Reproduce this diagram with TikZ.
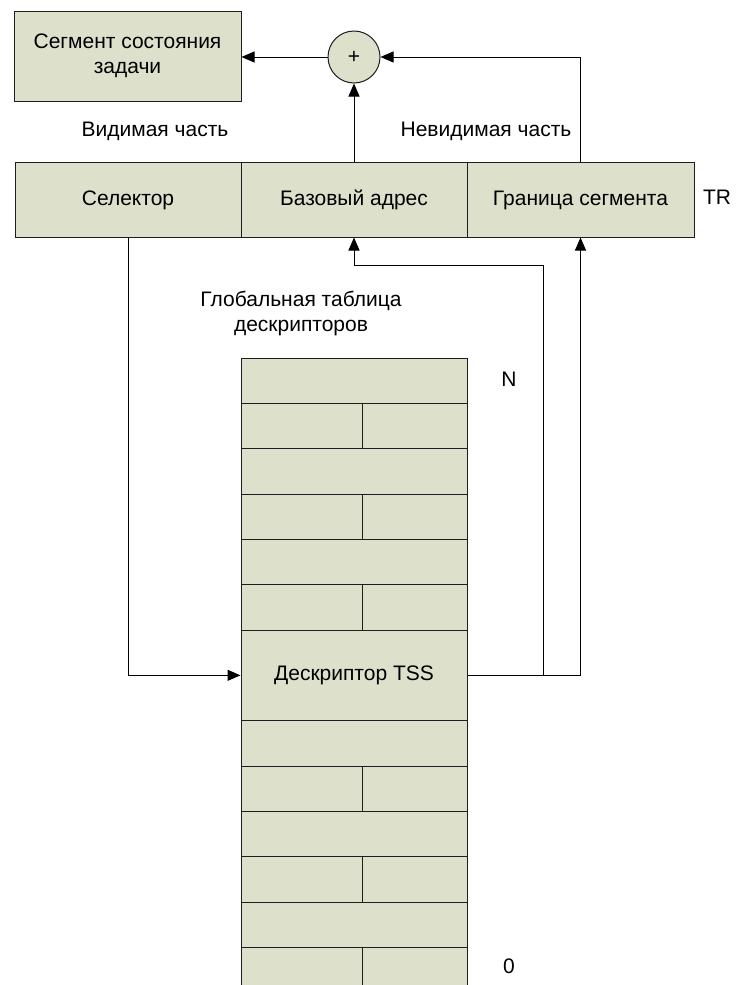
\documentclass[tikz,border=0pt]{standalone}
\usepackage{fontspec}
\setmainfont{Liberation Sans}
\usetikzlibrary{arrows.meta}
\definecolor{cellfill}{RGB}{221,225,204}
\definecolor{edge}{RGB}{30,30,30}

% one table row spanning the whole width, and one split in two cells
\newcommand\gdtfull[2]{\node[box, minimum width=226pt, minimum height=45.33pt] (#1) at (354,#2) {};}
\newcommand\gdtsplit[2]{%
  \node[box, minimum width=121pt, minimum height=45.33pt] (#1l) at (301.5,#2) {};
  \node[box, minimum width=105pt, minimum height=45.33pt] (#1r) at (414.5,#2) {};}

\begin{document}
\begin{tikzpicture}[x=1pt, y=-1pt,
  font=\fontsize{21}{25}\selectfont,
  box/.style={draw=edge, fill=cellfill, line width=1pt, inner sep=0pt,
              text height=15pt, text depth=4pt},
  lbl/.style={inner sep=0pt, text height=15pt, text depth=4pt},
  multi/.style={align=center, text height=, text depth=},
  arr/.style={draw=black, line width=1pt, -{Triangle[length=13pt,width=11pt]}}]

\useasboundingbox (0,0) rectangle (747,985);
\clip (0,0) rectangle (747,985);

% task state segment and the adder
\node[box, multi, minimum width=227pt, minimum height=90pt] (seg) at (127.5,56) {Сегмент состояния\\задачи};
\node[box, circle, minimum size=52pt, text height=, text depth=] (plus) at (354,57) {+};

% TR register
\node[box, minimum width=226pt, minimum height=75pt] (sel)  at (128,199.5)   {Селектор};
\node[box, minimum width=226pt, minimum height=75pt] (base) at (354,199.5)   {Базовый адрес};
\node[box, minimum width=227pt, minimum height=75pt] (gran) at (580.5,199.5) {Граница сегмента};

\node[lbl] (vis)   at (155,131) {Видимая часть};
\node[lbl] (invis) at (486,131) {Невидимая часть};
\node[lbl] (tr)    at (717,199) {TR};

% global descriptor table
\node[lbl, multi] (gdt) at (301,313) {Глобальная таблица\\дескрипторов};
\gdtfull{r1}{380.67}
\gdtsplit{r2}{426.0}
\gdtfull{r3}{471.33}
\gdtsplit{r4}{516.67}
\gdtfull{r5}{562.0}
\gdtsplit{r6}{607.33}
\node[box, minimum width=226pt, minimum height=90.67pt] (tss) at (354,675.33) {Дескриптор TSS};
\gdtfull{r8}{743.33}
\gdtsplit{r9}{788.67}
\gdtfull{r10}{834.0}
\gdtsplit{r11}{879.33}
\gdtfull{r12}{924.67}
\gdtsplit{r13}{970.0}

\node[lbl] (nlab) at (509,381) {N};
\node[lbl] (zlab) at (509,968) {0};

% connectors
\draw[arr] (plus.west) -- (seg.east |- plus.west);
\draw[arr] (gran.north) |- (plus.east);
\draw[arr] (base.north) -- (plus.south);
\draw[arr] (sel.south) |- (tss.west);
\path (tss.east) ++(76,0) coordinate (jn);
\path (jn) ++(0,-410.33) coordinate (bend);
\draw[arr] (tss.east) -| (gran.south);
\draw[arr] (jn) -- (bend) -| (base.south);
\end{tikzpicture}
\end{document}
